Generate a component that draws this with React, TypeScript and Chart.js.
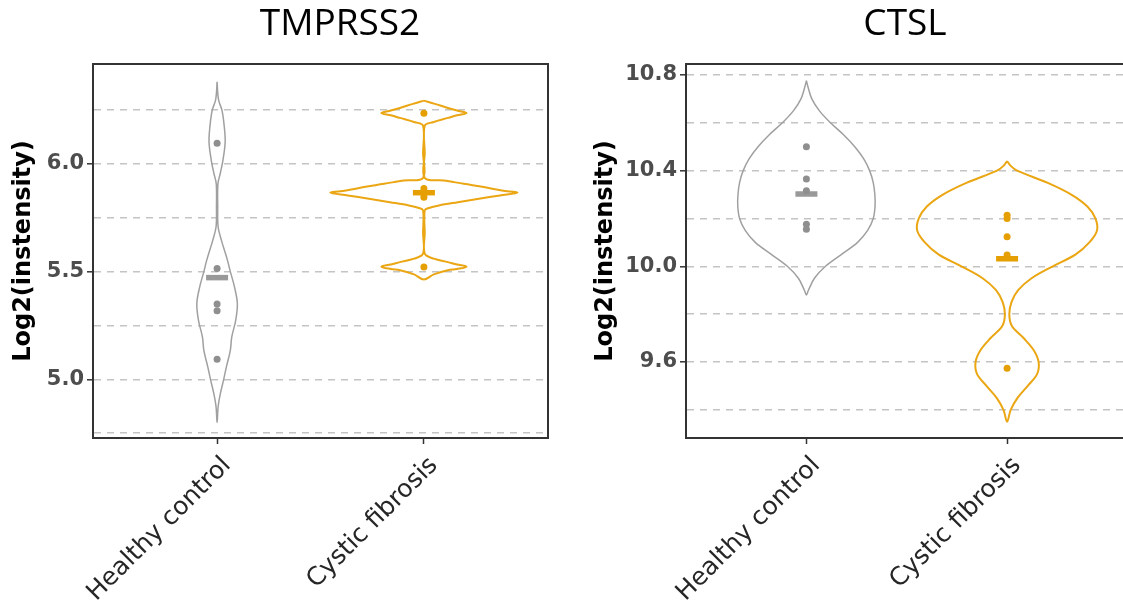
import React, { useEffect, useRef } from 'react';
import { Chart, registerables } from 'chart.js';

Chart.register(...registerables);

// ---------------- data ----------------
const groups = ['Healthy control', 'Cystic fibrosis'];
const groupColors = ['#9a9a9a', '#E69F00'];

// TMPRSS2 panel
const tmprssTitle = 'TMPRSS2';
const tmprssHealthyPoints = [6.095, 5.514, 5.35, 5.318, 5.093];
const tmprssCysticPoints = [6.234, 5.885, 5.86, 5.845, 5.521];
const tmprssMeans = [5.472, 5.866];
// violin outlines: y values and half widths (x units)
const tmprssHealthyViolinY = [6.38, 6.33, 6.293, 6.247, 6.17, 6.1, 6.015, 5.954, 5.907, 5.8, 5.707, 5.645, 5.553, 5.5, 5.429, 5.352, 5.274, 5.197, 5.135, 5.058, 5.0, 4.935, 4.873, 4.8];
const tmprssHealthyViolinW = [0, 0.003, 0.008, 0.024, 0.035, 0.039, 0.028, 0.015, 0.004, 0.003, 0.005, 0.021, 0.05, 0.064, 0.084, 0.098, 0.09, 0.071, 0.064, 0.045, 0.032, 0.016, 0.005, 0];
const tmprssCysticViolinY = [6.293, 6.278, 6.259, 6.247, 6.236, 6.225, 6.213, 6.193, 6.177, 6.05, 5.935, 5.923, 5.907, 5.892, 5.876, 5.866, 5.853, 5.838, 5.822, 5.807, 5.795, 5.784, 5.68, 5.583, 5.56, 5.544, 5.533, 5.523, 5.512, 5.506, 5.487, 5.463];
const tmprssCysticViolinW = [0, 0.053, 0.116, 0.16, 0.206, 0.16, 0.116, 0.044, 0.004, 0.004, 0.004, 0.097, 0.193, 0.29, 0.377, 0.452, 0.368, 0.266, 0.164, 0.073, 0.024, 0.004, 0.004, 0.004, 0.048, 0.116, 0.16, 0.206, 0.16, 0.116, 0.048, 0];
const tmprssYMin = 4.728;
const tmprssYMax = 6.463;
const tmprssYStep = 0.25;
const tmprssLabelStep = 0.5;

// CTSL panel
const ctslTitle = 'CTSL';
const ctslHealthyPoints = [10.5, 10.365, 10.316, 10.176, 10.155];
const ctslCysticPoints = [10.214, 10.2, 10.124, 10.047, 9.574];
const ctslMeans = [10.302, 10.032];
const ctslHealthyViolinY = [10.776, 10.75, 10.7, 10.65, 10.6, 10.55, 10.5, 10.45, 10.4, 10.35, 10.3, 10.25, 10.2, 10.15, 10.1, 10.05, 10.0, 9.95, 9.9, 9.88];
const ctslHealthyViolinW = [0, 0.008, 0.027, 0.065, 0.12, 0.185, 0.241, 0.285, 0.315, 0.333, 0.341, 0.342, 0.333, 0.305, 0.255, 0.175, 0.095, 0.04, 0.01, 0];
const ctslCysticViolinY = [10.44, 10.42, 10.4, 10.35, 10.3, 10.25, 10.2, 10.15, 10.1, 10.05, 10.0, 9.95, 9.9, 9.85, 9.8, 9.75, 9.7, 9.65, 9.6, 9.55, 9.5, 9.45, 9.4, 9.35];
const ctslCysticViolinW = [0, 0.018, 0.05, 0.2, 0.32, 0.4, 0.44, 0.448, 0.41, 0.342, 0.228, 0.122, 0.055, 0.022, 0.011, 0.024, 0.082, 0.132, 0.157, 0.15, 0.103, 0.052, 0.018, 0];
const ctslYMin = 9.282;
const ctslYMax = 10.846;
const ctslYStep = 0.2;
const ctslLabelStep = 0.4;

const yAxisTitle = 'Log2(instensity)';

// ---------------- helpers ----------------
function outline(center: number, ys: number[], ws: number[]) {
  const right = ys.map((y, i) => ({ x: center + ws[i], y }));
  const left = ys.map((y, i) => ({ x: center - ws[i], y })).reverse();
  return [...right, ...left.slice(1)];
}

const framePlugin = {
  id: 'frame',
  afterDraw(chart: any) {
    const { ctx, chartArea: a } = chart;
    ctx.save();
    ctx.strokeStyle = '#333333';
    ctx.lineWidth = 2;
    ctx.strokeRect(a.left, a.top, a.right - a.left, a.bottom - a.top);
    ctx.restore();
  },
};

function isMultiple(v: number, step: number) {
  const r = v / step;
  return Math.abs(r - Math.round(r)) < 1e-6;
}

interface PanelSpec {
  title: string;
  healthyPoints: number[];
  cysticPoints: number[];
  means: number[];
  healthyY: number[];
  healthyW: number[];
  cysticY: number[];
  cysticW: number[];
  yMin: number;
  yMax: number;
  yStep: number;
  labelStep: number;
  left: number;
  width: number;
  axisWidth: number;
  rightSpace: number;
}

function buildConfig(s: PanelSpec): any {
  const pts = (vals: number[], x: number) => vals.map((y) => ({ x, y }));
  return {
    type: 'scatter',
    data: {
      datasets: [
        {
          data: pts(s.healthyPoints, 1),
          pointRadius: 3.5,
          pointBackgroundColor: '#8f8f8f',
          pointBorderWidth: 0,
          showLine: false,
        },
        {
          data: pts(s.cysticPoints, 2),
          pointRadius: 3.5,
          pointBackgroundColor: groupColors[1],
          pointBorderWidth: 0,
          showLine: false,
        },
        {
          data: [
            { x: 1, y: s.means[0] },
            { x: 2, y: s.means[1] },
          ],
          pointStyle: 'line',
          pointRadius: 11,
          pointBorderWidth: 5.5,
          pointBorderColor: ['#999999', groupColors[1]],
          pointBackgroundColor: ['#999999', groupColors[1]],
          showLine: false,
        },
        {
          data: outline(1, s.healthyY, s.healthyW),
          showLine: true,
          borderColor: '#a0a0a0',
          borderWidth: 1.5,
          pointRadius: 0,
          tension: 0.35,
          fill: false,
        },
        {
          data: outline(2, s.cysticY, s.cysticW),
          showLine: true,
          borderColor: '#EBA613',
          borderWidth: 2,
          pointRadius: 0,
          tension: 0.35,
          fill: false,
        },
      ],
    },
    options: {
      animation: false,
      responsive: false,
      devicePixelRatio: 1,
      events: [],
      layout: { padding: 0 },
      plugins: {
        legend: { display: false },
        tooltip: { enabled: false },
        title: {
          display: true,
          text: s.title,
          color: '#000000',
          font: { family: 'Open Sans', size: 37, weight: 'normal', lineHeight: 1.2 },
          padding: { top: 2, bottom: 17.6 },
        },
      },
      scales: {
        x: {
          type: 'linear',
          min: 0.4,
          max: 2.6,
          afterFit(scale: any) {
            scale.height = 165;
          },
          ticks: {
            stepSize: 1,
            includeBounds: false,
            autoSkip: false,
            minRotation: 45,
            maxRotation: 45,
            labelOffset: 10,
            padding: 7,
            color: '#262626',
            font: { family: 'DejaVu Sans', size: 25, weight: 'normal' },
            callback: (v: number) => groups[Math.round(v) - 1] ?? '',
          },
          grid: {
            drawOnChartArea: false,
            drawTicks: true,
            tickLength: 6,
            tickColor: '#333333',
            tickWidth: 1.5,
          },
          border: { display: true, color: '#333333', width: 2 },
        },
        y: {
          type: 'linear',
          min: s.yMin,
          max: s.yMax,
          afterFit(scale: any) {
            scale.width = s.axisWidth;
          },
          ticks: {
            stepSize: s.yStep,
            includeBounds: false,
            autoSkip: false,
            padding: 3,
            color: '#4d4d4d',
            font: { family: 'DejaVu Sans', size: 21, weight: 'bold' },
            callback: (v: number) => (isMultiple(v, s.labelStep) ? v.toFixed(1) : ''),
          },
          grid: {
            color: '#c4c4c4',
            lineWidth: 1.6,
            tickLength: 6,
            tickWidth: 1.5,
            tickBorderDash: [],
            tickColor: (ctx: any) =>
              ctx.tick && isMultiple(ctx.tick.value, s.labelStep) ? '#333333' : 'rgba(0,0,0,0)',
          },
          border: { display: true, color: '#333333', width: 2, dash: [7, 6] },
          title: {
            display: true,
            text: yAxisTitle,
            color: '#000000',
            font: { family: 'DejaVu Sans', size: 24, weight: 'bold', lineHeight: 1.2 },
            padding: { top: 9.6, bottom: 0 },
          },
        },
        // empty right-hand space so that the panel title is centred like the original
        yRight: {
          type: 'linear',
          position: 'right',
          display: true,
          afterFit(scale: any) {
            scale.width = s.rightSpace;
          },
          ticks: { display: false },
          grid: { display: false, drawOnChartArea: false, drawTicks: false },
          border: { display: false },
          title: { display: false },
        },
      },
    },
    plugins: [framePlugin],
  };
}

const leftPanel: PanelSpec = {
  title: tmprssTitle,
  healthyPoints: tmprssHealthyPoints,
  cysticPoints: tmprssCysticPoints,
  means: tmprssMeans,
  healthyY: tmprssHealthyViolinY,
  healthyW: tmprssHealthyViolinW,
  cysticY: tmprssCysticViolinY,
  cysticW: tmprssCysticViolinW,
  yMin: tmprssYMin,
  yMax: tmprssYMax,
  yStep: tmprssYStep,
  labelStep: tmprssLabelStep,
  left: 0,
  width: 680,
  axisWidth: 93,
  rightSpace: 132,
};

const rightPanel: PanelSpec = {
  title: ctslTitle,
  healthyPoints: ctslHealthyPoints,
  cysticPoints: ctslCysticPoints,
  means: ctslMeans,
  healthyY: ctslHealthyViolinY,
  healthyW: ctslHealthyViolinW,
  cysticY: ctslCysticViolinY,
  cysticW: ctslCysticViolinW,
  yMin: ctslYMin,
  yMax: ctslYMax,
  yStep: ctslYStep,
  labelStep: ctslLabelStep,
  left: 582,
  width: 646,
  axisWidth: 104,
  rightSpace: 100.5,
};

function ViolinPanel({ spec }: { spec: PanelSpec }) {
  const ref = useRef<HTMLCanvasElement | null>(null);
  useEffect(() => {
    if (!ref.current) return;
    const chart = new Chart(ref.current, buildConfig(spec));
    return () => chart.destroy();
  }, [spec]);
  return (
    <canvas
      ref={ref}
      width={spec.width}
      height={603}
      style={{ position: 'absolute', left: spec.left, top: 0, width: spec.width, height: 603 }}
    />
  );
}

export default function App() {
  return (
    <div
      style={{
        position: 'fixed',
        left: 0,
        top: 0,
        width: 1123,
        height: 603,
        overflow: 'hidden',
        background: '#ffffff',
      }}
    >
      <ViolinPanel spec={leftPanel} />
      <ViolinPanel spec={rightPanel} />
    </div>
  );
}
